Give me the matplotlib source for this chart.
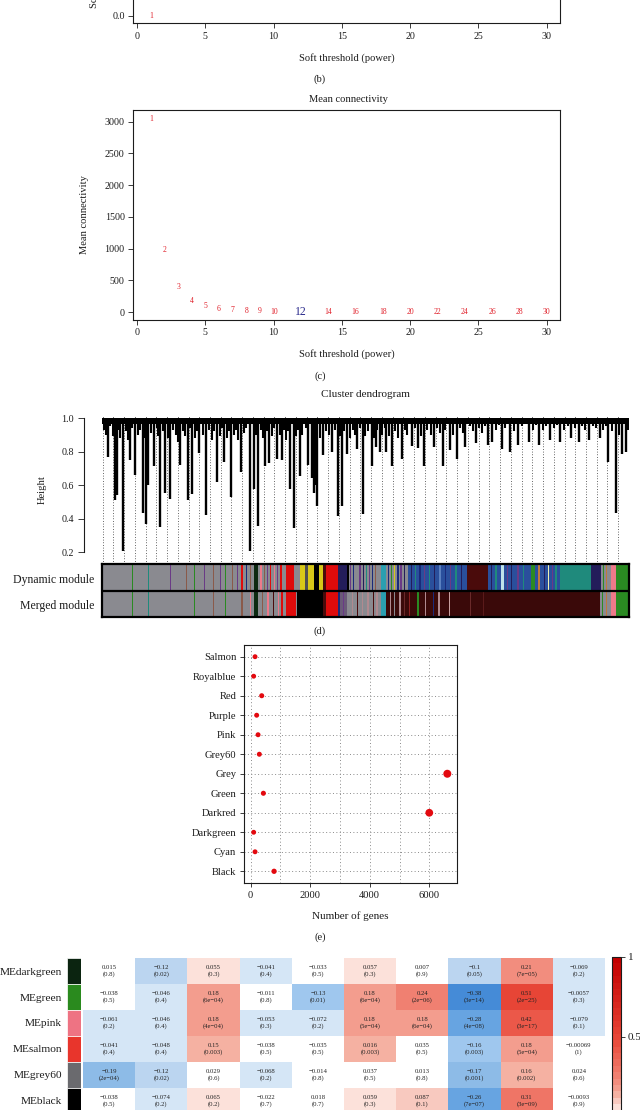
import numpy as np
import matplotlib
matplotlib.use("Agg")
import matplotlib.pyplot as plt
from matplotlib.colors import LinearSegmentedColormap, Normalize
from matplotlib.cm import ScalarMappable
from matplotlib.ticker import MultipleLocator

plt.rcParams['font.family'] = ['Liberation Serif', 'DejaVu Serif']
INK = '#1c1c1c'
plt.rcParams.update({'text.color': INK, 'axes.edgecolor': INK, 'xtick.color': INK,
                     'ytick.color': INK, 'axes.labelcolor': INK})

# ---------------- data ----------------
# (b) scale-free fit: only power 1 is visible in the crop
fit_powers = [1]
fit_r2 = [0.0]
fit_yticks = [0.0]

# (c) mean connectivity
powers = [1, 2, 3, 4, 5, 6, 7, 8, 9, 10, 12, 14, 16, 18, 20, 22, 24, 26, 28, 30]
mean_k = [3040, 978, 389, 168, 89, 47, 26, 15, 9, 6, 2, 1.2, 0.7, 0.45, 0.3, 0.2, 0.14, 0.1, 0.07, 0.05]
chosen_power = 12

# (d) dendrogram (leaf order in per-mille of genes): deep branches (position, height)
deep_branches = [(12, 0.77), (24, 0.51), (28, 0.54), (40, 0.21), (53, 0.75), (63, 0.66), (77, 0.435),
                 (83, 0.37), (88, 0.60), (99, 0.716), (111, 0.35), (120, 0.556), (130, 0.516),
                 (148, 0.72), (163, 0.512), (171, 0.55), (185, 0.79), (198, 0.425), (219, 0.62),
                 (232, 0.74), (245, 0.53), (264, 0.676), (281, 0.21), (288, 0.576), (297, 0.356),
                 (310, 0.716), (318, 0.73), (333, 0.756), (341, 0.75), (357, 0.576), (364, 0.346),
                 (376, 0.656), (392, 0.72), (398, 0.64), (403, 0.556), (406, 0.60), (409, 0.476),
                 (420, 0.78), (437, 0.80), (448, 0.416), (456, 0.476), (465, 0.786), (485, 0.816),
                 (495, 0.426), (512, 0.716), (520, 0.83), (527, 0.796), (540, 0.80), (550, 0.716),
                 (570, 0.756), (589, 0.836), (600, 0.82), (612, 0.716), (630, 0.83), (647, 0.716),
                 (660, 0.81), (674, 0.756), (690, 0.83), (710, 0.85), (733, 0.84), (740, 0.86),
                 (760, 0.816), (775, 0.796), (790, 0.84), (810, 0.86), (830, 0.84), (850, 0.87),
                 (870, 0.86), (890, 0.88), (905, 0.86), (925, 0.87), (945, 0.88), (961, 0.736),
                 (977, 0.436), (988, 0.786), (995, 0.80)]
# shallow fringe under the top merges (position, height)
fringe = [(3, 0.93), (8, 0.90), (16, 0.95), (20, 0.89), (32, 0.93), (35, 0.88), (45, 0.92), (49, 0.87),
          (57, 0.94), (68, 0.90), (72, 0.93), (81, 0.88), (93, 0.91), (104, 0.94), (107, 0.89),
          (115, 0.92), (125, 0.88), (135, 0.93), (140, 0.90), (144, 0.86), (153, 0.92), (158, 0.89),
          (167, 0.94), (176, 0.88), (180, 0.92), (191, 0.90), (203, 0.93), (208, 0.87), (213, 0.92),
          (224, 0.89), (228, 0.94), (237, 0.88), (241, 0.92), (250, 0.90), (255, 0.93), (259, 0.87),
          (269, 0.91), (274, 0.94), (292, 0.90), (302, 0.93), (306, 0.88), (314, 0.92), (322, 0.89),
          (327, 0.94), (338, 0.90), (346, 0.93), (350, 0.87), (353, 0.92), (368, 0.89), (372, 0.93),
          (380, 0.90), (388, 0.94), (414, 0.88), (425, 0.92), (431, 0.90), (442, 0.93), (452, 0.89),
          (460, 0.92), (470, 0.88), (476, 0.93), (480, 0.90), (490, 0.94), (500, 0.89), (506, 0.92),
          (516, 0.88), (523, 0.93), (532, 0.90), (537, 0.94), (545, 0.89), (556, 0.92), (563, 0.88),
          (575, 0.93), (580, 0.90), (595, 0.94), (605, 0.89), (618, 0.93), (624, 0.90), (636, 0.94),
          (641, 0.91), (652, 0.93), (666, 0.90), (680, 0.94), (685, 0.91), (698, 0.95), (705, 0.92),
          (716, 0.94), (722, 0.91), (728, 0.95), (748, 0.93), (754, 0.96), (766, 0.94), (782, 0.92),
          (798, 0.95), (818, 0.93), (824, 0.96), (838, 0.93), (844, 0.95), (858, 0.94), (864, 0.96),
          (878, 0.93), (884, 0.95), (898, 0.94), (912, 0.95), (918, 0.93), (932, 0.95), (938, 0.94),
          (952, 0.93), (957, 0.95), (968, 0.92), (982, 0.90), (998, 0.93)]
merge_band_low = 0.962

GREY, DKGREEN, RED, YELLOW = '#8a8a90', '#0d2a12', '#df0b0b', '#d8c818'
DKGREY, BLACK, DKRED, MIDNIGHT = '#505050', '#000000', '#4a0b0b', '#231d5a'
CYAN, ROYAL, LTCYAN, GREEN = '#2a9fb0', '#2a4f9c', '#bfe3ea', '#2a8a22'
TEAL, PINK, DKRED2, PURPLE = '#1f8a7c', '#ee7a8a', '#3a0909', '#6a3a86'
BROWN, NAVY, PINKGREY, ORANGE = '#8a5a4a', '#1a2a7a', '#b08a90', '#c07a3a'

dynamic_segments = [(0, 288, GREY), (288, 296, DKGREEN), (296, 349, GREY), (349, 364, RED),
                    (364, 376, GREY), (376, 386, YELLOW), (386, 392, DKGREY), (392, 402, YELLOW),
                    (402, 413, BLACK), (413, 419, YELLOW), (419, 426, DKRED), (426, 448, RED),
                    (448, 465, MIDNIGHT), (465, 469, BLACK), (469, 529, GREY), (529, 539, CYAN),
                    (539, 581, GREY), (581, 694, ROYAL), (694, 733, DKRED), (733, 758, ROYAL),
                    (758, 763, LTCYAN), (763, 814, ROYAL), (814, 822, GREEN), (822, 870, ROYAL),
                    (870, 928, TEAL), (928, 947, MIDNIGHT), (947, 966, GREY), (966, 976, PINK),
                    (976, 1000, GREEN)]
dynamic_stripes = [(58, GREEN), (89, TEAL), (130, PURPLE), (160, BROWN), (175, GREEN), (195, PURPLE),
                   (212, BROWN), (225, PURPLE), (235, GREEN), (248, BROWN), (258, PURPLE), (266, RED),
                   (275, NAVY), (282, BROWN), (302, PINK), (308, BROWN), (314, PURPLE), (320, RED),
                   (327, PINK), (333, PURPLE), (340, RED), (472, PURPLE), (478, NAVY), (490, PURPLE),
                   (496, MIDNIGHT), (502, TEAL), (508, PURPLE), (514, NAVY), (520, BROWN), (544, NAVY),
                   (550, GREEN), (556, YELLOW), (562, NAVY), (568, PURPLE), (574, MIDNIGHT),
                   (588, MIDNIGHT), (596, TEAL), (604, NAVY), (612, PURPLE), (622, TEAL), (632, MIDNIGHT),
                   (642, '#5a80c0'), (652, NAVY), (662, PURPLE), (672, TEAL), (682, MIDNIGHT),
                   (740, MIDNIGHT), (748, TEAL), (770, PURPLE), (778, MIDNIGHT), (790, PURPLE),
                   (800, TEAL), (830, ORANGE), (840, MIDNIGHT), (848, '#f0f0b0'), (856, PURPLE),
                   (862, TEAL), (952, GREEN), (958, ORANGE)]
merged_segments = [(0, 288, GREY), (288, 296, DKGREEN), (296, 349, GREY), (349, 368, RED),
                   (368, 370, GREY), (370, 419, BLACK), (419, 426, DKRED), (426, 448, RED),
                   (448, 465, '#6a5a78'), (465, 529, GREY), (529, 539, CYAN), (539, 946, DKRED2),
                   (946, 966, GREY), (966, 976, PINK), (976, 1000, GREEN)]
merged_stripes = [(58, GREEN), (89, TEAL), (175, GREEN), (212, BROWN), (235, GREEN), (266, BROWN),
                  (282, PINK), (305, BROWN), (315, PINK), (325, DKRED), (335, PINK), (342, RED),
                  (450, NAVY), (458, PURPLE), (475, PINKGREY), (485, DKRED), (495, PINKGREY),
                  (505, PINKGREY), (515, DKRED), (522, PINKGREY), (548, PINKGREY), (556, GREY),
                  (566, PINKGREY), (575, '#6a2a2a'), (584, '#8a2020'), (600, GREEN), (615, PINKGREY),
                  (630, NAVY), (640, PINKGREY), (660, '#c8a0a0'), (700, '#6a2a2a'), (725, '#5a1a1a'),
                  (950, GREEN), (958, ORANGE)]

# (e) module sizes
modules = ['Black', 'Cyan', 'Darkgreen', 'Darkred', 'Green', 'Grey', 'Grey60', 'Pink',
           'Purple', 'Red', 'Royalblue', 'Salmon']
n_genes = [785, 146, 100, 6000, 426, 6606, 290, 247, 200, 370, 100, 146]

# (f) module-trait heatmap (visible rows)
me_rows = ['MEdarkgreen', 'MEgreen', 'MEpink', 'MEsalmon', 'MEgrey60', 'MEblack']
me_colors = ['#0b2410', '#2a8a1e', '#ee7383', '#e8352c', '#6a6a6e', '#000000']
n_rows_total = 12
n_traits = 10
corr = [[0.015, -0.12, 0.055, -0.041, -0.033, 0.057, 0.007, -0.1, 0.21, -0.069],
        [-0.038, -0.046, 0.18, -0.011, -0.13, 0.18, 0.24, -0.38, 0.51, -0.057],
        [-0.061, -0.046, 0.18, -0.053, -0.072, 0.18, 0.18, -0.28, 0.42, -0.079],
        [-0.041, -0.048, 0.15, -0.038, -0.035, 0.16, 0.035, -0.16, 0.18, -0.00069],
        [-0.19, -0.12, 0.029, -0.068, -0.014, 0.037, 0.013, -0.17, 0.16, 0.024],
        [-0.038, -0.074, 0.065, -0.022, 0.018, 0.059, 0.087, -0.26, 0.31, -0.0093]]
corr_text = [["0.015", "−0.12", "0.055", "−0.041", "−0.033", "0.057", "0.007", "−0.1", "0.21", "−0.069"],
             ["−0.038", "−0.046", "0.18", "−0.011", "−0.13", "0.18", "0.24", "−0.38", "0.51", "−0.0057"],
             ["−0.061", "−0.046", "0.18", "−0.053", "−0.072", "0.18", "0.18", "−0.28", "0.42", "−0.079"],
             ["−0.041", "−0.048", "0.15", "−0.038", "−0.035", "0.016", "0.035", "−0.16", "0.18", "−0.00069"],
             ["−0.19", "−0.12", "0.029", "−0.068", "−0.014", "0.037", "0.013", "−0.17", "0.16", "0.024"],
             ["−0.038", "−0.074", "0.065", "−0.022", "0.018", "0.059", "0.087", "−0.26", "0.31", "−0.0093"]]
p_text = [["0.8", "0.02", "0.3", "0.4", "0.5", "0.3", "0.9", "0.05", "7e−05", "0.2"],
          ["0.5", "0.4", "6e−04", "0.8", "0.01", "6e−04", "2e−06", "3e−14", "2e−25", "0.3"],
          ["0.2", "0.4", "4e−04", "0.3", "0.2", "5e−04", "6e−04", "4e−08", "3e−17", "0.1"],
          ["0.4", "0.4", "0.003", "0.5", "0.5", "0.003", "0.5", "0.003", "5e−04", "1"],
          ["2e−04", "0.02", "0.6", "0.2", "0.8", "0.5", "0.8", "0.001", "0.002", "0.6"],
          ["0.5", "0.2", "0.2", "0.7", "0.7", "0.3", "0.1", "7e−07", "3e−09", "0.9"]]
# colour key labels visible in the crop
cbar_ticks = [0.5, 1]
cbar_labels = ['0.5', '1']

# ---------------- figure ----------------
W, H = 640, 1110
fig = plt.figure(figsize=(W / 100, H / 100), dpi=100)


def px_axes(l, t, r, b):
    return fig.add_axes([l / W, 1 - b / H, (r - l) / W, (b - t) / H])


def ftext(x, y, s, **kw):
    kw.setdefault('ha', 'center')
    kw.setdefault('va', 'center')
    fig.text(x / W, 1 - y / H, s, **kw)


RED_TXT = '#e01e28'
BLUE_TXT = '#2a2a8c'


def r_style(ax):
    for s in ax.spines.values():
        s.set_linewidth(0.8)
    ax.tick_params(labelsize=7.2, length=3.5, width=0.6, pad=2.5)


# (b)
ax_b = px_axes(133, 23.3 - 218, 560.4, 23.3)
ax_b.set_xlim(-0.3, 31.0)
ax_b.set_ylim(-0.036, 1.0)
for p, r in zip(fit_powers, fit_r2):
    ax_b.text(p, r, str(p), color=RED_TXT, fontsize=5.5, ha='center', va='center')
ax_b.set_xticks(range(0, 31, 5))
ax_b.set_yticks(fit_yticks)
ax_b.set_yticklabels([f"{v:.1f}" for v in fit_yticks])
r_style(ax_b)
ftext(94, 8, "Scale free topology model fit, signed R²", fontsize=7.5, rotation=90, va='bottom')
ftext(347, 58, "Soft threshold (power)", fontsize=7.6)
ftext(320, 79, "(b)", fontsize=7.6)

# (c)
ax_c = px_axes(133, 110, 560.4, 320)
ax_c.set_xlim(-0.3, 31.0)
ax_c.set_ylim(-126, 3186)
for p, k in zip(powers, mean_k):
    if p == chosen_power:
        ax_c.text(p, k, str(p), color=BLUE_TXT, fontsize=8.5, ha='center', va='center')
    else:
        ax_c.text(p, k, str(p), color=RED_TXT, fontsize=5.5, ha='center', va='center')
ax_c.set_xticks(range(0, 31, 5))
ax_c.set_yticks(range(0, 3001, 500))
r_style(ax_c)
ax_c.set_ylabel("Mean connectivity", fontsize=7.6)
ax_c.yaxis.set_label_coords(-0.103, 0.5)
ftext(348, 99, "Mean connectivity", fontsize=7.6)
ftext(347, 354, "Soft threshold (power)", fontsize=7.6)
ftext(320, 376, "(c)", fontsize=7.6)

# (d) dendrogram
ftext(365, 395, "Cluster dendrogram", fontsize=8)
ax_d = px_axes(102, 416, 628.6, 564)
ax_d.set_xlim(0, 1000)
ax_d.set_ylim(0.131, 1.012)
ax_d.xaxis.set_minor_locator(MultipleLocator(20.4, offset=1.1))
ax_d.xaxis.set_major_locator(MultipleLocator(2000))
ax_d.grid(which='minor', axis='x', linestyle=(0, (1, 2.2)), color='#333333', linewidth=0.6)
ax_d.set_axisbelow(True)
ax_d.axhspan(merge_band_low, 1.0, color='black', lw=0)
fp, fh = zip(*fringe)
ax_d.vlines(fp, fh, merge_band_low + 0.005, color='black', lw=1.5)
dp, dh = zip(*deep_branches)
ax_d.vlines(dp, dh, merge_band_low + 0.005, color='black', lw=1.7)
for side in ['top', 'right', 'bottom']:
    ax_d.spines[side].set_visible(False)
ax_d.spines['left'].set_position(('outward', 13.2))
ax_d.spines['left'].set_bounds(0.2, 1.0)
ax_d.spines['left'].set_linewidth(0.8)
ax_d.set_yticks([0.2, 0.4, 0.6, 0.8, 1.0])
ax_d.set_yticklabels(['0.2', '0.4', '0.6', '0.8', '1.0'])
ax_d.tick_params(axis='y', labelsize=7.2, length=4.4, width=0.6, pad=2.5)
ax_d.tick_params(axis='x', which='both', bottom=False, labelbottom=False)
ax_d.set_ylabel("Height", fontsize=7.6)
ax_d.yaxis.set_label_coords((47 - 102) / 526.6, 0.5)

ax_m = px_axes(102, 564, 628.6, 617)
ax_m.set_xlim(0, 1000)
ax_m.set_ylim(0, 2)
for (a, b, c) in dynamic_segments:
    ax_m.broken_barh([(a, b - a)], (1, 1), facecolors=c, lw=0)
for (a, c) in dynamic_stripes:
    ax_m.broken_barh([(a - 1.2, 2.4)], (1, 1), facecolors=c, lw=0)
for (a, b, c) in merged_segments:
    ax_m.broken_barh([(a, b - a)], (0, 1), facecolors=c, lw=0)
for (a, c) in merged_stripes:
    ax_m.broken_barh([(a - 1.2, 2.4)], (0, 1), facecolors=c, lw=0)
ax_m.axhline(1, color='black', lw=1.6)
for s in ax_m.spines.values():
    s.set_linewidth(1.6)
    s.set_color('black')
ax_m.set_xticks([])
ax_m.set_yticks([])
ftext(94.7, 580, "Dynamic module", fontsize=8.5, ha='right')
ftext(94.7, 606, "Merged module", fontsize=8.5, ha='right')
ftext(320, 631, "(d)", fontsize=7.6)

# (e) module sizes
ax_e = px_axes(244, 645, 457, 883)
ypos = np.arange(1, len(modules) + 1)
sizes = 12 + np.array(n_genes) * 0.0032
ax_e.scatter(n_genes, ypos, s=sizes, color='#e3090f', zorder=3, lw=0)
ax_e.margins(x=0.05)
ax_e.set_ylim(0.4, len(modules) + 0.6)
ax_e.set_yticks(ypos)
ax_e.set_yticklabels(modules)
ax_e.set_xticks([0, 2000, 4000, 6000])
ax_e.xaxis.set_minor_locator(MultipleLocator(1000))
ax_e.grid(which='both', axis='x', linestyle=(0, (1, 2.5)), color='#8a8a8a', linewidth=0.7)
ax_e.grid(which='major', axis='y', linestyle=(0, (1, 2.5)), color='#8a8a8a', linewidth=0.7)
ax_e.set_axisbelow(True)
for s in ax_e.spines.values():
    s.set_linewidth(0.8)
ax_e.tick_params(labelsize=7.6, length=3, width=0.6, pad=2.5)
ax_e.tick_params(which='minor', length=0)
ftext(350.5, 916, "Number of genes", fontsize=8)
ftext(320, 937, "(e)", fontsize=7.6)

# (f) module-trait heatmap
anchors = [(-1.0, (15, 75, 185)), (-0.38, (70, 140, 215)), (-0.26, (105, 165, 225)),
           (-0.18, (143, 188, 231)), (-0.14, (160, 200, 238)), (-0.10, (188, 214, 240)),
           (-0.06, (214, 231, 246)), (-0.025, (255, 255, 255)), (0.025, (255, 255, 255)),
           (0.06, (252, 226, 219)), (0.10, (248, 202, 192)), (0.14, (245, 178, 163)),
           (0.18, (243, 158, 143)), (0.22, (242, 142, 127)), (0.26, (240, 130, 115)),
           (0.30, (239, 118, 103)), (0.42, (235, 90, 75)), (0.50, (232, 70, 55)), (1.0, (195, 0, 0))]
cmap = LinearSegmentedColormap.from_list(
    'bwr_wgcna', [((v + 1) / 2, tuple(c / 255 for c in rgb)) for v, rgb in anchors], N=50)
norm = Normalize(-1, 1)

row_h = 26
ax_h = px_axes(83, 958, 605, 958 + n_rows_total * row_h)
ax_h.pcolormesh(np.arange(n_traits + 1), np.arange(len(me_rows) + 1), np.array(corr),
                cmap=cmap, norm=norm, shading='flat')
ax_h.set_xlim(0, n_traits)
ax_h.set_ylim(n_rows_total, 0)
for i in range(len(me_rows)):
    for j in range(n_traits):
        ax_h.text(j + 0.5, i + 0.5, f"{corr_text[i][j]}\n({p_text[i][j]})", ha='center', va='center',
                  fontsize=4.8, linespacing=1.45, color='#222222')
ax_h.axis('off')

ax_s = px_axes(67, 958, 81, 958 + n_rows_total * row_h)
ax_s.barh(np.arange(len(me_rows)), 1, height=1, left=0, align='edge', color=me_colors,
          edgecolor='white', linewidth=0.5)
ax_s.set_xlim(0, 1)
ax_s.set_ylim(n_rows_total, 0)
ax_s.set_yticks(np.arange(len(me_rows)) + 0.5)
ax_s.set_yticklabels(me_rows, fontsize=8.2)
ax_s.tick_params(axis='y', length=0, pad=3.6)
ax_s.set_xticks([])
for s in ax_s.spines.values():
    s.set_visible(False)

ax_cb = px_axes(612, 957, 621, 1277)
cb = fig.colorbar(ScalarMappable(norm=norm, cmap=cmap), cax=ax_cb)
cb.set_ticks(cbar_ticks)
cb.set_ticklabels(cbar_labels)
cb.ax.tick_params(labelsize=8, length=3, width=0.6, pad=2)
cb.outline.set_linewidth(0.8)

fig.savefig("out.png", dpi=100)
